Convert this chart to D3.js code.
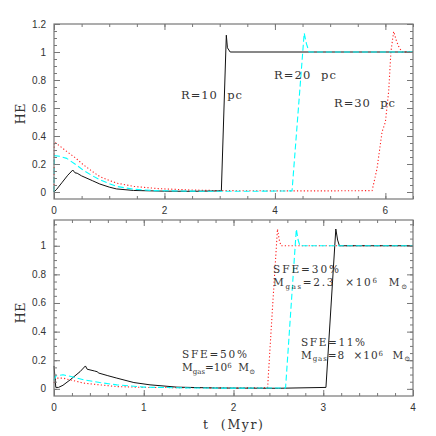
<!DOCTYPE html>
<html><head><meta charset="utf-8">
<script src="https://cdn.jsdelivr.net/npm/d3@7"></script>
<style>
body{margin:0;background:#fff;}
svg{display:block;}
.tick-lbl{font-family:"Liberation Sans",Arial,sans-serif;font-size:10px;fill:#333;}
.ser{font-family:"DejaVu Serif","Liberation Serif",serif;fill:#333;}
</style></head>
<body>
<script>
// ---------- DATA ----------
// Top panel: HE vs t (Myr) for three cloud radii
const topR10 = [[0,0],[0.05,0.02],[0.15,0.07],[0.25,0.12],[0.34,0.157],[0.38,0.137],[0.42,0.134],[0.5,0.115],[0.7,0.08],[0.83,0.057],[1.0,0.035],[1.13,0.022],[1.44,0.011],[2.0,0.006],[2.5,0.005],[3.03,0.008],[3.12,1.12],[3.14,1.03],[3.19,1.0],[6.5,1.0]];
const topR20 = [[0,0],[0.005,0.26],[0.1,0.255],[0.23,0.24],[0.4,0.195],[0.53,0.155],[0.7,0.115],[0.83,0.088],[1.0,0.06],[1.13,0.04],[1.44,0.02],[1.8,0.01],[2.5,0.006],[3.5,0.005],[4.31,0.008],[4.53,1.135],[4.57,1.06],[4.62,1.0],[6.5,1.0]];
const topR30 = [[0,0],[0.005,0.357],[0.1,0.33],[0.23,0.29],[0.4,0.24],[0.53,0.195],[0.7,0.145],[0.83,0.11],[1.0,0.083],[1.13,0.064],[1.44,0.04],[1.89,0.024],[2.5,0.014],[3.0,0.01],[4.0,0.008],[5.0,0.008],[5.76,0.01],[5.85,0.17],[5.94,0.43],[6.0,0.5],[6.06,0.72],[6.1,1.0],[6.15,1.147],[6.2,1.08],[6.24,1.04],[6.3,1.0],[6.5,1.0]];
// Bottom panel: HE vs t (Myr) for three SFE / gas-mass cases
const botSFE11 = [[0,0.16],[0.02,0.01],[0.05,0.01],[0.1,0.025],[0.18,0.063],[0.29,0.12],[0.35,0.16],[0.37,0.137],[0.45,0.125],[0.48,0.12],[0.5,0.11],[0.6,0.092],[0.7,0.075],[0.89,0.044],[1.07,0.028],[1.37,0.012],[1.8,0.006],[2.5,0.004],[3.03,0.01],[3.14,1.117],[3.16,1.04],[3.18,1.0],[4,1.0]];
const botSFE30 = [[0,0.06],[0.02,0.09],[0.1,0.098],[0.2,0.085],[0.33,0.063],[0.51,0.044],[0.7,0.028],[1.0,0.012],[1.5,0.006],[2.0,0.005],[2.58,0.006],[2.7,1.117],[2.72,1.04],[2.74,1.0],[4,1.0]];
const botSFE50 = [[0,0.04],[0.02,0.075],[0.1,0.075],[0.2,0.06],[0.33,0.04],[0.51,0.028],[0.7,0.016],[1.0,0.01],[1.5,0.008],[2.0,0.006],[2.38,0.008],[2.43,0.52],[2.49,1.117],[2.51,1.04],[2.53,1.0],[4,1.0]];
// Tick labels
const topXTicks = [0,2,4,6];
const topYTicks = [0,0.2,0.4,0.6,0.8,1,1.2];
const botXTicks = [0,1,2,3,4];
const botYTicks = [0,0.2,0.4,0.6,0.8,1];

// ---------- LAYOUT ----------
const W=436,H=436;
const svg=d3.select("body").append("svg").attr("width",W).attr("height",H);

function panel(cfg){
  const x=d3.scaleLinear().domain(cfg.xd).range([cfg.l,cfg.r]);
  const y=d3.scaleLinear().domain(cfg.yd).range([cfg.b,cfg.t]);
  const g=svg.append("g");
  const line=d3.line().x(d=>x(d[0])).y(d=>y(d[1]));
  cfg.series.forEach(s=>{
    g.append("path").datum(s.data).attr("d",line).attr("fill","none")
     .attr("stroke",s.color).attr("stroke-width",s.w||1)
     .attr("stroke-dasharray",s.dash||null).attr("stroke-linejoin","round");
  });
  const tc="#777";
  const mk=(axisFn,scale,vals,len,tr)=>{
    const a=g.append("g").attr("transform",tr).call(axisFn(scale).tickValues(vals).tickSize(-len).tickFormat(""));
    a.select(".domain").remove();
    a.selectAll("line").attr("stroke",tc);
  };
  const xMinor=d3.range(cfg.xd[0],cfg.xd[1]+1e-9,cfg.xmin);
  const xMajor=d3.range(cfg.xd[0],cfg.xd[1]+1e-9,cfg.xmaj);
  const yMinor=d3.range(0,cfg.yd[1]+1e-9,0.05);
  const yMajor=d3.range(0,cfg.yd[1]+1e-9,0.2);
  mk(d3.axisBottom,x,xMinor,3,`translate(0,${cfg.b})`);
  mk(d3.axisBottom,x,xMajor,6,`translate(0,${cfg.b})`);
  mk(d3.axisTop,x,xMinor,3,`translate(0,${cfg.t})`);
  mk(d3.axisTop,x,xMajor,6,`translate(0,${cfg.t})`);
  mk(d3.axisLeft,y,yMinor,3,`translate(${cfg.l},0)`);
  mk(d3.axisLeft,y,yMajor,6,`translate(${cfg.l},0)`);
  mk(d3.axisRight,y,yMinor,3,`translate(${cfg.r},0)`);
  mk(d3.axisRight,y,yMajor,6,`translate(${cfg.r},0)`);
  g.append("rect").attr("x",cfg.l).attr("y",cfg.t).attr("width",cfg.r-cfg.l).attr("height",cfg.b-cfg.t)
   .attr("fill","none").attr("stroke",tc).attr("stroke-width",1.2);
  const fmt=v=>String(+v.toFixed(1));
  g.selectAll(".xl").data(cfg.xticks).enter().append("text").attr("class","tick-lbl")
   .attr("x",d=>x(d)).attr("y",cfg.b+15).attr("text-anchor","middle").text(fmt);
  g.selectAll(".yl").data(cfg.yticks).enter().append("text").attr("class","tick-lbl")
   .attr("x",cfg.l-8).attr("y",d=>y(d)+3.5).attr("text-anchor","end").text(fmt);
  g.append("text").attr("class","ser").attr("font-size",13)
   .attr("transform",`translate(24.5,${cfg.heY}) rotate(-90)`).attr("text-anchor","middle")
   .text("HE");
  return {x,y,g};
}

panel({l:54,r:413,t:24,b:199,xd:[0,6.5],yd:[-0.05,1.2],xmin:0.5,xmaj:2,
  xticks:topXTicks,yticks:topYTicks,heY:114,
  series:[
    {data:topR30,color:"#ff2020",dash:"1.2,2.2",w:1.1},
    {data:topR10,color:"#111"},
    {data:topR20,color:"#00ffff",dash:"6,3",w:1.1}
  ]});

panel({l:54,r:413,t:220,b:396,xd:[0,4],yd:[-0.05,1.18],xmin:0.2,xmaj:1,
  xticks:botXTicks,yticks:botYTicks,heY:313,
  series:[
    {data:botSFE50,color:"#ff2020",dash:"1.2,2.2",w:1.1},
    {data:botSFE11,color:"#111"},
    {data:botSFE30,color:"#00ffff",dash:"6,3",w:1.1}
  ]});

// ---------- ANNOTATIONS ----------
function ann(x,y,len,parts,size){
  const t=svg.append("text").attr("class","ser").attr("x",x).attr("y",y).attr("font-size",size||10.5)
    .attr("xml:space","preserve");
  if(len) t.attr("textLength",len).attr("lengthAdjust","spacing");
  parts.forEach(p=>{
    const s=t.append("tspan").text(p[0]);
    if(p[1]==="sub"){s.attr("font-size",7).attr("dy",2.5);}
    if(p[1]==="sup"){s.attr("font-size",7).attr("dy",-3);}
    if(p[1]==="base"){s.attr("dy",p[2]);}
  });
  return t;
}
ann(181,99,61,[["R=10  pc"]],11.5);
ann(274,79,62,[["R=20  pc"]],11.5);
ann(334,106.5,61,[["R=30  pc"]],11.5);

ann(273,273,66,[["SFE=30%"]]);
ann(273,286,134,[["M"],["gas","sub"],["=2.3  ×10","base",-2.5],["6","sup"],["  M","base",3],["⊙","sub"]]);
ann(301,345.5,64,[["SFE=11%"]]);
ann(301,358.5,109,[["M"],["gas","sub"],["=8  ×10","base",-2.5],["6","sup"],["  M","base",3],["⊙","sub"]]);
ann(182,358,65,[["SFE=50%"]]);
ann(182,371,73,[["M"],["gas","sub"],["=10","base",-2.5],["6","sup"],["  M","base",3],["⊙","sub"]]);

svg.append("text").attr("class","ser").attr("x",203).attr("y",428.5).attr("font-size",12.5)
  .attr("textLength",60).attr("lengthAdjust","spacing").attr("xml:space","preserve").text("t  (Myr)");
</script>
</body></html>
